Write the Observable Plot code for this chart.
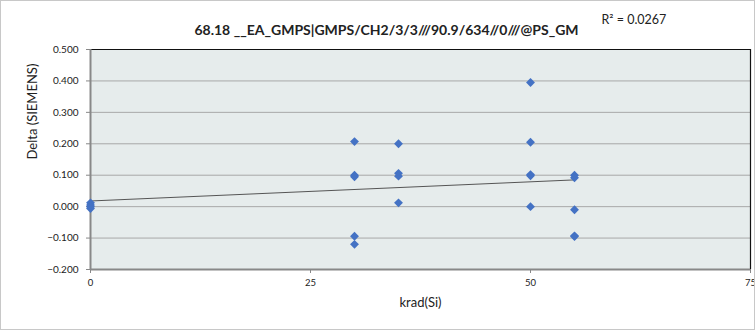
<!DOCTYPE html>
<html><head><meta charset="utf-8">
<script src="https://cdn.jsdelivr.net/npm/d3@7"></script>
<script src="https://cdn.jsdelivr.net/npm/@observablehq/plot@0.6"></script>
<style>
body{margin:0;background:#fff;}
#wrap{position:relative;width:753px;height:328px;border:1px solid #c8c8c8;overflow:hidden;}
svg{display:block;}
</style></head><body><div id="wrap"></div>
<script>
const title = "68.18 __EA_GMPS|GMPS/CH2/3/3///90.9/634//0///@PS_GM";
const r2Label = "R² = 0.0267";
const xLabel = "krad(Si)";
const yLabel = "Delta (SIEMENS)";
const xTicks = [0, 25, 50, 75];
const yTicks = [-0.2, -0.1, 0, 0.1, 0.2, 0.3, 0.4, 0.5];
const krad = [0, 0, 0, 0,
  30, 30, 30, 30, 30,
  35, 35, 35, 35,
  50, 50, 50, 50, 50,
  55, 55, 55, 55, 55];
const delta = [0.012, 0.005, 0.000, -0.006,
  0.207, 0.100, 0.095, -0.094, -0.120,
  0.200, 0.106, 0.097, 0.012,
  0.395, 0.205, 0.102, 0.098, 0.000,
  0.100, 0.092, -0.010, -0.093, -0.095];
const data = krad.map((k, i) => ({krad: k, delta: delta[i]}));

const font = "Lato, 'Open Sans', sans-serif";
const chart = Plot.plot({
  width: 753, height: 328,
  marginLeft: 89, marginRight: 4, marginTop: 48, marginBottom: 60,
  style: {fontFamily: font, fontSize: "10px", color: "#222", background: "#fff", overflow: "visible"},
  x: {domain: [0, 75], label: null},
  y: {domain: [-0.2, 0.5], label: null},
  marks: [
    Plot.frame({fill: "#e6ecec"}),
    Plot.gridY(yTicks, {stroke: "#a8a8a8", strokeOpacity: 1, strokeWidth: 1}),
    Plot.ruleY([0.5], {stroke: "#111", strokeWidth: 1.2}),
    Plot.ruleX([75], {stroke: "#111", strokeWidth: 1.2}),
    Plot.ruleX([0], {stroke: "#888", strokeWidth: 2}),
    Plot.ruleY([-0.2], {stroke: "#888", strokeWidth: 2}),
    Plot.axisX({ticks: xTicks, tickFormat: d3.format("d"), tickSize: 4, tickPadding: 6, label: null, stroke: "#888", fontSize: 9.5}),
    Plot.axisY({ticks: yTicks, tickFormat: d3.format(".3f"), tickSize: 4, tickPadding: 8, label: null, stroke: "#888"}),
    Plot.linearRegressionY(data, {x: "krad", y: "delta", ci: 0, stroke: "#555", strokeWidth: 1}),
    Plot.dot(data, {x: "krad", y: "delta", symbol: "diamond2", fill: "#4472c4", r: 4}),
    Plot.text([title], {frameAnchor: "top", dy: -24, dx: -34, fontWeight: "bold", fontSize: 14, fill: "#222"}),
    Plot.text([r2Label], {frameAnchor: "top-left", dx: 511, dy: -34, fontSize: 12.5, fill: "#222", textAnchor: "start"}),
    Plot.text([xLabel], {frameAnchor: "bottom", dy: 37, fontSize: 13, fill: "#222"}),
    Plot.text([yLabel], {frameAnchor: "left", dx: -58, rotate: -90, fontSize: 13, fill: "#222"})
  ]
});
document.getElementById("wrap").appendChild(chart);
</script></body></html>
